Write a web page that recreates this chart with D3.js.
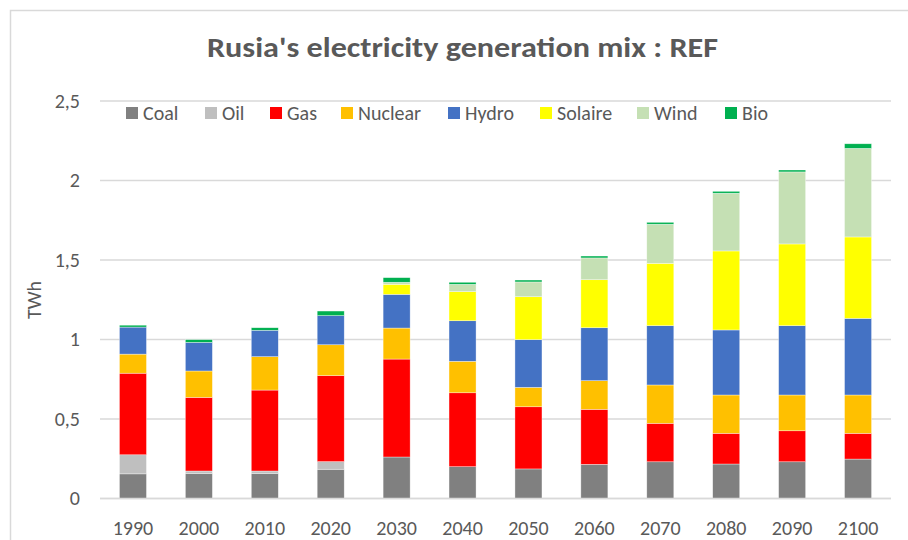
<!DOCTYPE html>
<html><head><meta charset="utf-8">
<script src="https://cdn.jsdelivr.net/npm/d3@7"></script>
<style>
html,body{margin:0;padding:0;background:#fff;}
svg{display:block;font-family:Carlito,"Liberation Sans Narrow","Open Sans",sans-serif;}
</style></head>
<body>
<svg id="chart" width="908" height="540"></svg>
<script>
const years = ["1990","2000","2010","2020","2030","2040","2050","2060","2070","2080","2090","2100"];
const seriesNames = ["Coal","Oil","Gas","Nuclear","Hydro","Solaire","Wind","Bio"];
const seriesColors = ["#808080","#bfbfbf","#ff0000","#ffc000","#4472c4","#ffff00","#c5e0b4","#00b050"];
const coal    = [0.155,0.158,0.158,0.184,0.261,0.200,0.186,0.215,0.231,0.217,0.231,0.248];
const oil     = [0.120,0.015,0.015,0.048,0.000,0.000,0.000,0.000,0.000,0.000,0.000,0.000];
const gas     = [0.513,0.463,0.509,0.541,0.616,0.465,0.391,0.346,0.242,0.193,0.195,0.162];
const nuclear = [0.120,0.166,0.210,0.194,0.195,0.198,0.122,0.180,0.241,0.241,0.225,0.241];
const hydro   = [0.170,0.180,0.166,0.183,0.212,0.255,0.300,0.333,0.373,0.409,0.436,0.482];
const solaire = [0.000,0.000,0.000,0.000,0.063,0.183,0.270,0.302,0.392,0.497,0.514,0.512];
const wind    = [0.000,0.000,0.000,0.000,0.013,0.046,0.093,0.137,0.246,0.363,0.453,0.557];
const bio     = [0.012,0.017,0.016,0.029,0.029,0.013,0.012,0.012,0.012,0.012,0.012,0.029];
const yTicks = [0,0.5,1,1.5,2,2.5];
const title = "Rusia's electricity generation mix : REF";
const yLabel = "TWh";

const seriesValues = [coal,oil,gas,nuclear,hydro,solaire,wind,bio];
const table = years.map((yr,i)=>{
  const o = {year:yr};
  seriesNames.forEach((s,j)=>o[s]=seriesValues[j][i]);
  return o;
});
const stacked = d3.stack().keys(seriesNames)(table);

const svg = d3.select("#chart");
const textColor = "#595959";
const gridColor = "#d9d9d9";
const fs = "20px";

// frame
svg.append("rect").attr("x",10.5).attr("y",10.5).attr("width",920).attr("height",560)
  .attr("fill","none").attr("stroke","#d9d9d9").attr("stroke-width",1.5);

const pLeft=100, pRight=891, pTop=101, pBottom=498.5;
const x = d3.scaleBand().domain(years).range([pLeft,pRight]).paddingInner(0.59).paddingOuter(0.295);
const y = d3.scaleLinear().domain([0,2.5]).range([pBottom,pTop]);

// grid
svg.append("g").selectAll("line").data(yTicks).join("line")
  .attr("x1",pLeft).attr("x2",pRight)
  .attr("y1",d=>y(d)).attr("y2",d=>y(d))
  .attr("stroke",gridColor).attr("stroke-width",1.5);

// y axis labels
const yAxis = d3.axisLeft(y).tickValues(yTicks).tickSize(0).tickPadding(0)
  .tickFormat(d=>String(d).replace(".",","));
const ya = svg.append("g").attr("transform",`translate(80,0)`).call(yAxis);
ya.select(".domain").remove();
ya.attr("font-family",null).attr("font-size",null);
ya.selectAll("text").attr("fill",textColor).style("font-size",fs);

// bars
svg.append("g").selectAll("g").data(stacked).join("g")
  .attr("fill",(d,i)=>seriesColors[i])
  .selectAll("rect").data(d=>d).join("rect")
  .attr("x",d=>x(d.data.year))
  .attr("width",x.bandwidth())
  .attr("y",d=>y(d[1]))
  .attr("height",d=>Math.max(0,y(d[0])-y(d[1])))
  .attr("stroke","#ffffff").attr("stroke-opacity",0.6).attr("stroke-width",0.6);

// baseline
svg.append("line").attr("x1",pLeft).attr("x2",pRight).attr("y1",y(0)).attr("y2",y(0))
  .attr("stroke",gridColor).attr("stroke-width",1.5);

// x axis
const xAxis = d3.axisBottom(x).tickSize(0).tickPadding(0);
const xa = svg.append("g").attr("transform",`translate(0,521)`).call(xAxis);
xa.select(".domain").remove();
xa.attr("font-family",null).attr("font-size",null);
xa.selectAll("text").attr("fill",textColor).style("font-size",fs).attr("dy","0.71em");

// y label
svg.append("text").attr("transform","translate(41,300) rotate(-90)")
  .attr("text-anchor","middle").attr("fill",textColor).style("font-size",fs).text(yLabel);

// title
svg.append("text").attr("x",462.5).attr("y",57).attr("text-anchor","middle")
  .attr("fill",textColor).style("font-size","29px").style("font-weight","bold")
  .attr("textLength",511).attr("lengthAdjust","spacingAndGlyphs").text(title);

// legend
const legendX = [126,205,270,341,448,540,637,725];
const lg = svg.append("g").selectAll("g").data(seriesNames).join("g")
  .attr("transform",(d,i)=>`translate(${legendX[i]},107)`);
lg.append("rect").attr("width",12).attr("height",12).attr("fill",(d,i)=>seriesColors[i]);
lg.append("text").attr("x",17).attr("y",13).attr("fill",textColor).style("font-size",fs).text(d=>d);
</script>
</body></html>
